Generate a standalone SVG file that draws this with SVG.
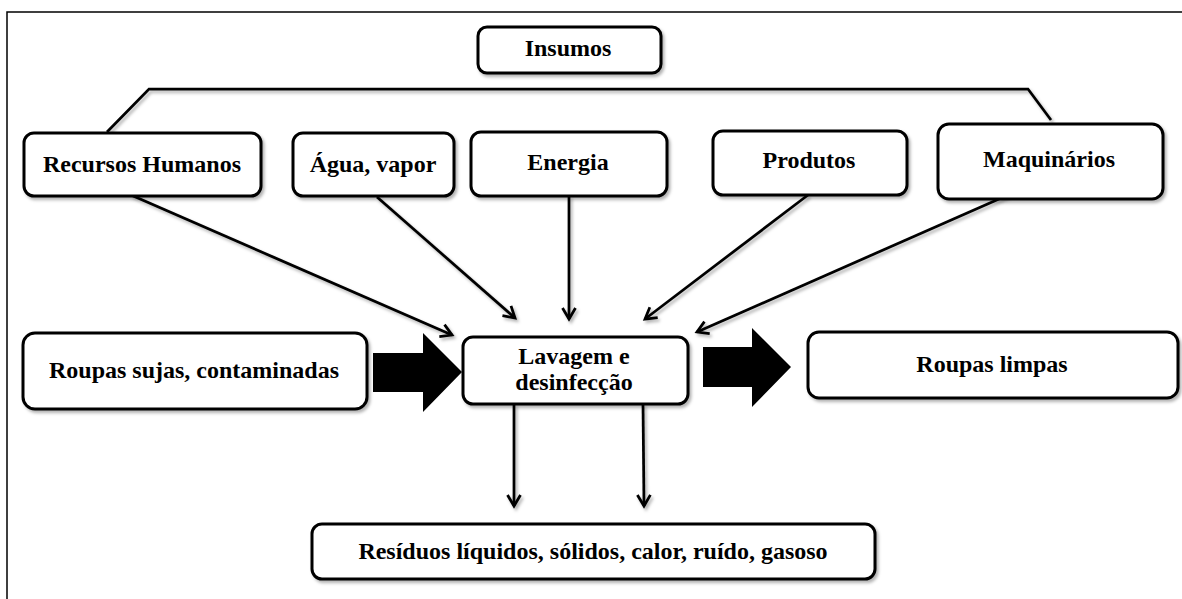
<svg xmlns="http://www.w3.org/2000/svg" width="1182" height="599" viewBox="0 0 1182 599">
<style>
.box{fill:#fff;stroke:#000;stroke-width:3;filter:url(#sh)}
.t{font-family:"Liberation Serif","DejaVu Serif",serif;font-weight:bold;font-size:24px;fill:#000;text-anchor:middle}
.ln{fill:none;stroke:#000;stroke-width:2.75;filter:url(#sh)}
.ar{marker-end:url(#ah)}
.big{fill:#000}
</style>
<defs>
<filter id="sh" filterUnits="userSpaceOnUse" x="0" y="0" width="1182" height="599">
<feDropShadow dx="2" dy="2.5" stdDeviation="1.5" flood-color="#000" flood-opacity="0.3"/>
</filter>
<marker id="ah" viewBox="0 0 16 16" refX="13" refY="8" markerWidth="16" markerHeight="16" markerUnits="userSpaceOnUse" orient="auto">
<path d="M2,1.5 L13,8 L2,14.5" fill="none" stroke="#000" stroke-width="2.75" stroke-linejoin="miter"/>
</marker>
</defs>
<rect width="1182" height="599" fill="#fff"/>
<path d="M7,599 V12 H1182" fill="none" stroke="#000" stroke-width="1.5"/>
<g id="connectors">
<path class="ln" d="M107,132 L149,89 H1028 L1051,120"/>
<path class="ln ar" d="M131,195 L452,335"/>
<path class="ln ar" d="M377,197 L515,318"/>
<path class="ln ar" d="M569,196 L569,319"/>
<path class="ln ar" d="M808,195 L645,319"/>
<path class="ln ar" d="M1008,195 L697,332"/>
<path class="ln ar" d="M514,404 L514,506"/>
<path class="ln ar" d="M643,404 L644,506"/>
<path class="big" d="M373,353 H423 V333 L462,372 L423,412 V392 H373 Z"/>
<path class="big" d="M703,347 H752 V328 L791,367 L752,407 V387 H703 Z"/>
</g>
<g id="insumos"><rect class="box" x="478" y="27" width="183" height="46" rx="9"/><text class="t" x="568" y="56">Insumos</text></g>
<g id="recursos"><rect class="box" x="24" y="133" width="237" height="63" rx="10"/><text class="t" x="142" y="172">Recursos Humanos</text></g>
<g id="agua"><rect class="box" x="293" y="133" width="161" height="63" rx="10"/><text class="t" x="373" y="172">Água, vapor</text></g>
<g id="energia"><rect class="box" x="471" y="132" width="196" height="64" rx="10"/><text class="t" x="568" y="170">Energia</text></g>
<g id="produtos"><rect class="box" x="713" y="131" width="194" height="64" rx="10"/><text class="t" x="809" y="168">Produtos</text></g>
<g id="maquinarios"><rect class="box" x="938" y="124" width="225" height="75" rx="11"/><text class="t" x="1049" y="167">Maquinários</text></g>
<g id="lavagem"><rect class="box" x="463" y="337" width="225" height="67" rx="10"/><text class="t" x="574" y="364">Lavagem e</text><text class="t" x="574" y="390">desinfecção</text></g>
<g id="sujas"><rect class="box" x="23" y="333" width="344" height="76" rx="12"/><text class="t" x="194" y="378">Roupas sujas, contaminadas</text></g>
<g id="limpas"><rect class="box" x="808" y="332" width="370" height="66" rx="11"/><text class="t" x="992" y="372">Roupas limpas</text></g>
<g id="residuos"><rect class="box" x="312" y="524" width="563" height="55" rx="10"/><text class="t" x="593" y="559">Resíduos líquidos, sólidos, calor, ruído, gasoso</text></g>
</svg>
